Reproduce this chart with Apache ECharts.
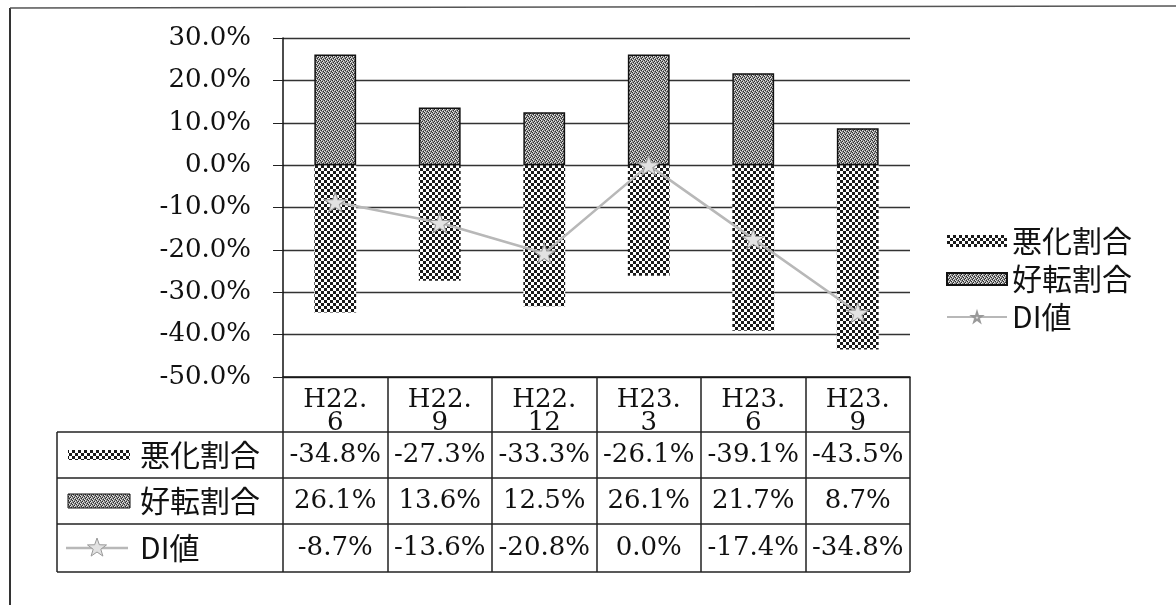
<!DOCTYPE html>
<html>
<head>
<meta charset="utf-8">
<script src="https://cdn.jsdelivr.net/npm/echarts@6/dist/echarts.min.js"></script>
<style>
  html, body { margin: 0; padding: 0; background: #fff; }
  #chart { width: 1176px; height: 605px; }
</style>
</head>
<body>
<div id="chart"></div>
<script>
// Survey periods and ratios (%)
const categories = ['H22.6', 'H22.9', 'H22.12', 'H23.3', 'H23.6', 'H23.9'];
const worsenedRatio = [-34.8, -27.3, -33.3, -26.1, -39.1, -43.5];
const improvedRatio = [26.1, 13.6, 12.5, 26.1, 21.7, 8.7];
const diValue = [-8.7, -13.6, -20.8, 0.0, -17.4, -34.8];
const seriesNames = ['悪化割合', '好転割合', 'DI値'];
const yMin = -50, yMax = 30, yStep = 10;

const LATIN = '"DejaVu Serif", "Noto Sans CJK JP", serif';
const CJK = '"Noto Sans CJK JP", "DejaVu Serif", sans-serif';

// Fill patterns for the two bar series
function checkerPattern() {
  const c = document.createElement('canvas');
  c.width = 6; c.height = 6;
  const g = c.getContext('2d');
  g.fillStyle = '#fff'; g.fillRect(0, 0, 6, 6);
  g.fillStyle = '#1a1a1a';
  g.fillRect(0, 0, 3, 3); g.fillRect(3, 3, 3, 3);
  return c;
}
function stipplePattern() {
  const c = document.createElement('canvas');
  c.width = 4; c.height = 4;
  const g = c.getContext('2d');
  g.fillStyle = '#8c8c8c'; g.fillRect(0, 0, 4, 4);
  g.fillStyle = '#2a2a2a';
  [[0,0],[2,1],[1,2],[3,3]].forEach(p => g.fillRect(p[0], p[1], 1, 1));
  g.fillStyle = '#e8e8e8';
  [[1,0],[3,1],[0,3],[2,2]].forEach(p => g.fillRect(p[0], p[1], 1, 1));
  return c;
}
const worsenFill = { image: checkerPattern(), repeat: 'repeat' };
const improveFill = { image: stipplePattern(), repeat: 'repeat' };
const starPath = 'path://M50,0 L61,35 L98,35 L68,57 L79,91 L50,70 L21,91 L32,57 L2,35 L39,35 Z';

// five-pointed star outline centred on (cx, cy)
function starPoints(cx, cy, rOuter, rInner) {
  const pts = [];
  for (let k = 0; k < 10; k++) {
    const r = k % 2 ? rInner : rOuter;
    const a = -Math.PI / 2 + k * Math.PI / 5;
    pts.push([cx + r * Math.cos(a), cy + r * Math.sin(a)]);
  }
  return pts;
}

const fmt = v => v.toFixed(1) + '%';

const chart = echarts.init(document.getElementById('chart'), null, { renderer: 'canvas' });

const option = {
  backgroundColor: '#fff',
  animation: false,
  grid: { left: 283, right: 266, top: 38, bottom: 228, containLabel: false },
  legend: {
    orient: 'vertical',
    left: 946, top: 226,
    itemWidth: 60, itemHeight: 12, itemGap: 8,
    padding: 0,
    data: [
      { name: seriesNames[0], icon: 'rect' },
      { name: seriesNames[1], icon: 'rect' },
      { name: seriesNames[2] }
    ],
    textStyle: { fontFamily: CJK, fontSize: 30, color: '#111' }
  },
  xAxis: {
    type: 'category',
    data: categories,
    boundaryGap: true,
    axisLine: { show: true, onZero: false, lineStyle: { color: '#111', width: 1.5 } },
    axisTick: { show: true, interval: 0, length: 195, lineStyle: { color: '#222', width: 1.5 } },
    axisLabel: {
      interval: 0, margin: 12,
      fontFamily: LATIN, fontSize: 26, color: '#111', lineHeight: 23,
      formatter: v => v.replace('.', '.\n')
    }
  },
  yAxis: {
    type: 'value',
    min: yMin, max: yMax, interval: yStep,
    axisLine: { show: true, lineStyle: { color: '#111', width: 1.5 } },
    axisTick: { show: true, length: 10, lineStyle: { color: '#222' } },
    axisLabel: { margin: 32, fontFamily: LATIN, fontSize: 26, color: '#111', formatter: v => fmt(v) },
    splitLine: { show: true, lineStyle: { color: '#333', width: 1.3 } }
  },
  series: [
    {
      name: seriesNames[0], type: 'bar', stack: 'ratio', barWidth: '40%',
      data: worsenedRatio,
      itemStyle: { color: worsenFill }
    },
    {
      name: seriesNames[1], type: 'bar', stack: 'ratio', barWidth: '40%',
      data: improvedRatio,
      itemStyle: { color: improveFill, borderColor: '#111', borderWidth: 1.5 }
    },
    {
      name: seriesNames[2], type: 'line', data: diValue,
      symbol: starPath, symbolSize: [22, 20],
      lineStyle: { color: '#b8b8b8', width: 2.5 },
      itemStyle: { color: '#e2e2e2', borderColor: '#999', borderWidth: 1 },
      z: 5
    }
  ]
};
chart.setOption(option);

// Data table under the plot, aligned to the category axis
const rowTop = [432, 478, 524];
const rowBottom = 572;
const tableLeft = 57, tableRight = 910;
const rowValues = [worsenedRatio, improvedRatio, diValue];
const graphics = [];

// outer frame (left and top edges)
graphics.push({ type: 'line', shape: { x1: 10, y1: 8, x2: 10, y2: 605 }, style: { stroke: '#333', lineWidth: 2 } });
graphics.push({ type: 'line', shape: { x1: 10, y1: 8, x2: 1176, y2: 6 }, style: { stroke: '#555', lineWidth: 1.5 } });

rowTop.concat([rowBottom]).forEach(y => {
  graphics.push({ type: 'line', shape: { x1: tableLeft, y1: y, x2: tableRight, y2: y }, style: { stroke: '#222', lineWidth: 1.3 } });
});
graphics.push({ type: 'line', shape: { x1: tableLeft, y1: rowTop[0], x2: tableLeft, y2: rowBottom }, style: { stroke: '#222', lineWidth: 1.5 } });

rowTop.forEach((top, r) => {
  const cy = top + (r < 2 ? 23 : 24);
  categories.forEach((c, i) => {
    const cx = chart.convertToPixel({ xAxisIndex: 0 }, i);
    graphics.push({
      type: 'text', x: cx, y: cy,
      style: { text: fmt(rowValues[r][i]), fontFamily: LATIN, fontSize: 26, fill: '#111', align: 'center', verticalAlign: 'middle' }
    });
  });
  // row header: key swatch + name
  if (r === 0) {
    graphics.push({ type: 'rect', shape: { x: 68, y: cy - 5, width: 62, height: 10 }, style: { fill: worsenFill } });
  } else if (r === 1) {
    graphics.push({ type: 'rect', shape: { x: 68, y: cy - 7, width: 62, height: 14 }, style: { fill: improveFill, stroke: '#111', lineWidth: 1 } });
  } else {
    graphics.push({ type: 'line', shape: { x1: 66, y1: cy, x2: 128, y2: cy }, style: { stroke: '#b8b8b8', lineWidth: 2.5 } });
    graphics.push({ type: 'polygon', shape: { points: starPoints(97, cy, 10, 4) },
      style: { fill: '#e2e2e2', stroke: '#999', lineWidth: 1 } });
  }
  graphics.push({
    type: 'text', x: 140, y: cy,
    style: { text: seriesNames[r], fontFamily: CJK, fontSize: 30, fill: '#111', align: 'left', verticalAlign: 'middle' }
  });
});

chart.setOption({ graphic: graphics });
</script>
</body>
</html>
